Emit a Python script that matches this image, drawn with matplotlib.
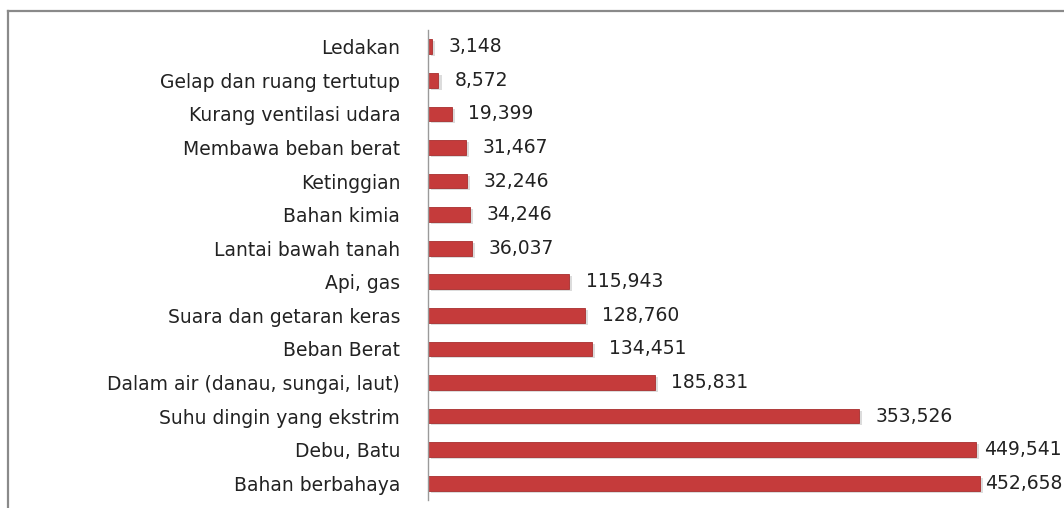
import matplotlib.pyplot as plt
from matplotlib.lines import Line2D
import numpy as np

categories = ["Bahan berbahaya", "Debu, Batu", "Suhu dingin yang ekstrim",
              "Dalam air (danau, sungai, laut)", "Beban Berat",
              "Suara dan getaran keras", "Api, gas", "Lantai bawah tanah",
              "Bahan kimia", "Ketinggian", "Membawa beban berat",
              "Kurang ventilasi udara", "Gelap dan ruang tertutup", "Ledakan"]
values = [452658, 449541, 353526, 185831, 134451, 128760, 115943, 36037,
          34246, 32246, 31467, 19399, 8572, 3148]

W, H = 1064, 508
fs = 13.5
fig = plt.figure(figsize=(W / 100, H / 100), dpi=100)
ax = fig.add_axes([428 / W, 1 - 500 / H, 1 - 428 / W, (500 - 30) / H])

y = np.arange(len(categories))
# soft shadow under each bar
ax.barh(y - 0.06, values, height=0.44, color='#bbbbbb', alpha=0.5, left=2500, zorder=1)
ax.barh(y, values, height=0.44, color='#c53b3b', edgecolor='#a82e2e', linewidth=0.6, zorder=2)

xmax = 521500
ax.set_xlim(0, xmax)
ax.set_ylim(-0.5, len(categories) - 0.5)
ax.set_yticks(y)
ax.set_yticklabels(categories, fontsize=fs, color='#222222')
ax.tick_params(axis='y', length=0, pad=20)
ax.set_xticks([])
for s in ['top', 'right', 'bottom']:
    ax.spines[s].set_visible(False)
ax.spines['left'].set_color('#9a9a9a')
ax.spines['left'].set_linewidth(1.0)

for yi, v in zip(y, values):
    txt = f"{v:,}"
    if v > 0.8 * xmax:
        ax.text(0.997, yi, txt, transform=ax.get_yaxis_transform(), ha='right', va='center',
                fontsize=fs, color='#222222', zorder=3)
    else:
        ax.annotate(txt, (v, yi), xytext=(12, 0), textcoords='offset points',
                    ha='left', va='center', fontsize=fs, color='#222222', zorder=3)

# outer frame of the original chart area (cut at right and bottom)
fx, fy = 8 / W, 1 - 11 / H
fig.add_artist(Line2D([fx, fx], [0, fy], transform=fig.transFigure, color='#8a8a8a', linewidth=1.6))
fig.add_artist(Line2D([fx, 1], [fy, fy], transform=fig.transFigure, color='#8a8a8a', linewidth=1.6))

plt.savefig("out.png", dpi=100)
